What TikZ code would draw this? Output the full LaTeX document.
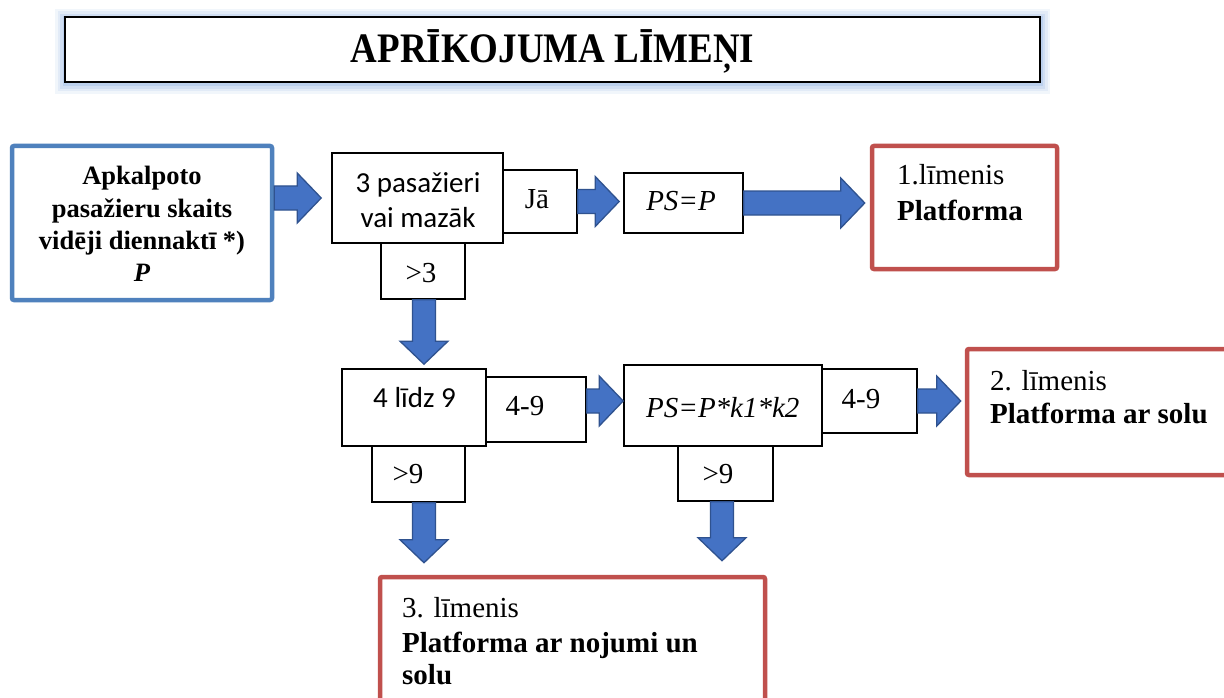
\documentclass[tikz,border=0pt]{standalone}
\usepackage{fontspec}
\setmainfont{Liberation Serif}
\newfontfamily\calib{Carlito}
\usetikzlibrary{calc}
\definecolor{arrowblue}{HTML}{4472C4}
\definecolor{arrowedge}{HTML}{2F528F}
\definecolor{inblue}{HTML}{4F81BD}
\definecolor{lvlred}{HTML}{C0504D}
\definecolor{glowblue}{HTML}{7FA7E0}
\tikzset{
  box/.style={draw=black, line width=1.6pt, fill=white, inner sep=0pt},
  inbox/.style={draw=inblue, line width=4.5pt, fill=white, inner sep=0pt, rounded corners=2pt},
  lvl/.style={draw=lvlred, line width=4.5pt, fill=white, inner sep=0pt, rounded corners=2pt},
  titlebox/.style={draw=black, line width=1.6pt, fill=white, inner sep=0pt},
  txt/.style={inner sep=0pt, font=\fontsize{29}{34}\selectfont},
  intxt/.style={inner sep=0pt, font=\fontsize{26.5}{32}\selectfont\bfseries},
  fat/.style={fill=arrowblue, draw=arrowedge, line width=1.3pt, line join=miter},
}
\newcommand\mkbox[6]{\node[#1, minimum width={#5-#3}, minimum height={#6-#4}] (#2) at ({(#3+#5)/2},{(#4+#6)/2}) {};}
\newcommand\fatH[2]{\draw[fat] let \p1=#1, \p2=#2 in
  (\x1,\y1+12pt) -- (\x2-24pt,\y1+12pt) -- (\x2-24pt,\y1+25pt) -- (\x2,\y1)
  -- (\x2-24pt,\y1-25pt) -- (\x2-24pt,\y1-12pt) -- (\x1,\y1-12pt) -- cycle;}
\newcommand\fatV[2]{\draw[fat] let \p1=#1, \p2=#2 in
  (\x1-11.5pt,\y1) -- (\x1-11.5pt,\y2+23pt) -- (\x1-24pt,\y2+23pt) -- (\x1,\y2)
  -- (\x1+24pt,\y2+23pt) -- (\x1+11.5pt,\y2+23pt) -- (\x1+11.5pt,\y1) -- cycle;}
\begin{document}
\begin{tikzpicture}[x=1pt,y=-1pt]
\useasboundingbox (0,0) rectangle (1224,698);
\fill[white] (0,0) rectangle (1224,698);
% title with glow
\foreach \w/\o in {20/0.10,15/0.13,10/0.18,5/0.25}
  \draw[glowblue, line width=\w pt, opacity=\o] (65,19) rectangle (1040,84);
\mkbox{titlebox}{title}{65}{17}{1040}{82}
\node[inner sep=0pt, anchor=base, font=\fontsize{42}{42}\selectfont\bfseries] (titletxt) at (552.5,63) {\scalebox{0.88}[1]{APRĪKOJUMA LĪMEŅI}};
% boxes
\mkbox{inbox}{input}{12}{146}{272}{300}
\mkbox{box}{q3}{332}{153}{503}{243}
\mkbox{box}{ja}{503}{170}{577}{233}
\mkbox{box}{gt3}{381}{243}{465}{299}
\mkbox{box}{psp}{624}{173}{743}{233}
\mkbox{lvl}{L1}{872}{146}{1057}{269}
\mkbox{box}{l49}{342}{369}{486}{446}
\mkbox{box}{r49a}{486}{377}{586}{442}
\mkbox{box}{gt9a}{372}{446}{465}{502}
\mkbox{box}{ps2}{624}{365}{822}{446}
\mkbox{box}{r49b}{822}{369}{917}{433}
\mkbox{box}{gt9b}{678}{446}{773}{501}
\mkbox{lvl}{L2}{967}{349}{1240}{475}
\mkbox{lvl}{L3}{380}{577}{765}{720}
% texts
\node[intxt, anchor=base] (in1) at (142,185) {Apkalpoto};
\node[intxt, anchor=base] (in2) at (142,217) {pasažieru skaits};
\node[intxt, anchor=base] (in3) at (142,249) {vidēji diennaktī *)};
\node[intxt, anchor=base] (in4) at (142,281) {\itshape P};
\node[txt, anchor=base] (q3a) at (418,193) {\calib 3 pasažieri};
\node[txt, anchor=base] (q3b) at (418,227) {\calib vai mazāk};
\node[txt, anchor=base] (jat) at (537,208) {Jā};
\node[txt, anchor=base] (gt3t) at (421,282) {>3};
\node[txt, anchor=base] (pspt) at (681,210) {\itshape PS=P};
\node[txt, anchor=base west] (L1a) at (897,185) {1.līmenis};
\node[txt, anchor=base west] (L1b) at (897,220) {\bfseries Platforma};
\node[txt, anchor=base] (l49t) at (414.5,407) {\calib 4 līdz 9};
\node[txt, anchor=base] (r49at) at (525,415) {4-9};
\node[txt, anchor=base] (gt9at) at (408,483) {>9};
\node[txt, anchor=base west] (ps2t) at (646,417) {\itshape PS=P*k1*k2};
\node[txt, anchor=base] (r49bt) at (861,408) {4-9};
\node[txt, anchor=base] (gt9bt) at (718,483) {>9};
\node[txt, anchor=base west] (L2a) at (990,390) {2. līmenis};
\node[txt, anchor=base west] (L2b) at (990,423) {\bfseries Platforma ar solu};
\node[txt, anchor=base west] (L3a) at (402,617) {3. līmenis};
\node[txt, anchor=base west] (L3b) at (402,652) {\bfseries Platforma ar nojumi un};
\node[txt, anchor=base west] (L3c) at (402,684) {\bfseries solu};
% block arrows
\fatH{(input.east |- q3.west)}{($(q3.west)+(-10,0)$)}
\fatH{(ja.east)}{($(psp.west)+(-4,0)$)}
\fatH{(psp.east)}{($(L1.west)+(-5,0)$)}
\fatV{($(gt3.south)+(1,0)$)}{($(l49.north)+(0,-4)$)}
\fatH{($(r49a.east)+(0,-8.5)$)}{(ps2.west)}
\fatH{(r49b.east)}{($(L2.west)+(-4,0)$)}
\fatV{($(gt9a.south)+(5.5,0)$)}{($(L3.north)+(0,-12)$)}
\fatV{($(gt9b.south)+(-3.5,0)$)}{($(L3.north)+(0,-14)$)}
\end{tikzpicture}
\end{document}
